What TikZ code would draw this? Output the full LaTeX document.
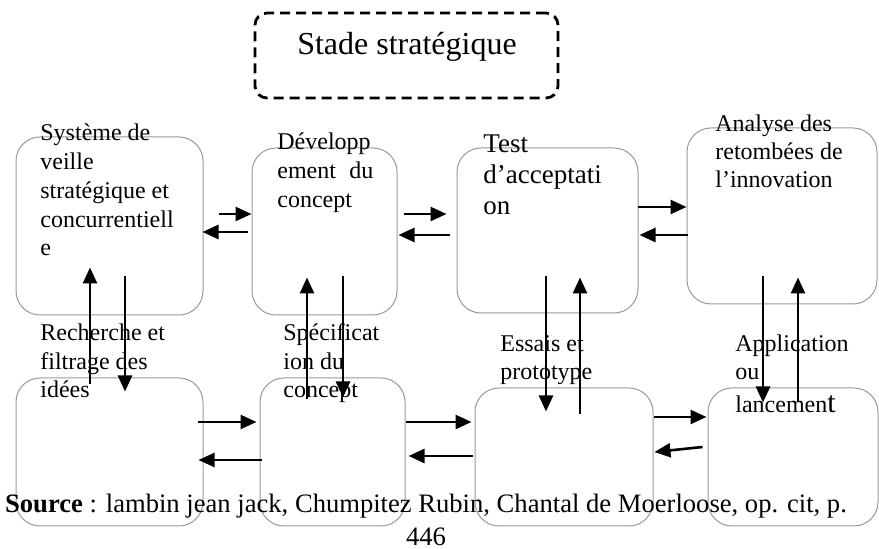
\documentclass[tikz,border=0pt]{standalone}
\usepackage{fontspec}
\setmainfont{Liberation Serif}
\usetikzlibrary{arrows.meta,positioning}

\begin{document}
\begin{tikzpicture}[
    x=0.5pt,y=-0.5pt,
    font=\fontsize{12}{14.4}\selectfont,
    block/.style={draw=black!40,line width=0.5pt,rounded corners=12pt,inner sep=0pt},
    stage/.style={draw,dash pattern=on 5pt off 3pt,line width=1.4pt,rounded corners=6pt,inner sep=0pt},
    lbl/.style={anchor=base west,align=left,inner sep=0pt},
    arrow/.style={-{Triangle[length=8pt,width=7pt]},line width=1.3pt}
]
\useasboundingbox (0,0) rectangle (879,549);
% stage title
\node[stage,minimum width=151.5pt,minimum height=42.5pt] (stade) at (406.5,55.5) {};
\node[anchor=base,inner sep=0pt,font=\fontsize{16}{19}\selectfont] (titre) at (407,55) {Stade stratégique};
% upper row
\node[block,minimum width=93.5pt,minimum height=89pt] (veille) at (109.5,226) {};
\node[block,minimum width=72.5pt,minimum height=83.5pt] (concept) at (324.5,231.5) {};
\node[block,minimum width=90.5pt,minimum height=82.5pt] (acceptation) at (547.5,230.5) {};
\node[block,minimum width=95pt,minimum height=88pt] (retombees) at (782,216) {};
% lower row
\node[block,minimum width=93.5pt,minimum height=74pt] (recherche) at (109.5,452) {};
\node[block,minimum width=72.5pt,minimum height=74pt] (specification) at (332.5,452) {};
\node[block,minimum width=89pt,minimum height=69pt] (essais) at (564,457) {};
\node[block,minimum width=85pt,minimum height=69pt] (lancement) at (793,457) {};
% texts (placed by the baseline of their last line)
\node[lbl] (tveille) at (40,256) {Système de\\veille\\stratégique et\\concurrentiell\\e};
\node[lbl] (tconcept) at (277,207.5) {Développ\\ement\hspace{6.7pt}du\\concept};
\node[lbl,font=\fontsize{13.5}{15.5}\selectfont] (tacceptation) at (483,215) {Test\\d’acceptati\\on};
\node[lbl,font=\fontsize{12}{14}\selectfont] (tretombees) at (715,188) {Analyse des\\retombées de\\l’innovation};
\node[lbl] (trecherche) at (40,398) {Recherche et\\filtrage des\\idées};
\node[lbl] (tspecification) at (283,398) {Spécificat\\ion du\\concept};
\node[lbl] (tessais) at (500,380) {Essais et\\prototype};
\node[lbl,font=\fontsize{12}{14}\selectfont] (tlancement) at (735,413) {Application\\ou\\[2.5pt]lancemen{\fontsize{15}{15}\selectfont t}};
% horizontal arrows, upper row
\draw[arrow] ([shift={(15,-12)}]veille.east) -- ([shift={(0,-17.5)}]concept.west);
\draw[arrow] ([shift={(-4,0.5)}]concept.west) -- ([shift={(-1,6)}]veille.east);
\draw[arrow] ([shift={(6,-17.5)}]concept.east) -- ([shift={(-10,-16.5)}]acceptation.west);
\draw[arrow] ([shift={(-7,4.5)}]acceptation.west) -- ([shift={(1,3.5)}]concept.east);
\draw[arrow] ([shift={(-1,-23.5)}]acceptation.east) -- ([shift={(0,-9)}]retombees.west);
\draw[arrow] ([shift={(1,19)}]retombees.west) -- ([shift={(1,4.5)}]acceptation.east);
% vertical arrows
\draw[arrow] ([shift={(-19.5,7)}]recherche.north) -- ([shift={(-19.5,-48)}]veille.south);
\draw[arrow] ([shift={(15.5,-39)}]veille.south) -- ([shift={(15.5,14)}]recherche.north);
\draw[arrow] ([shift={(-25.5,22)}]specification.north) -- ([shift={(-17.5,-38)}]concept.south);
\draw[arrow] ([shift={(18.5,-39)}]concept.south) -- ([shift={(10.5,20)}]specification.north);
\draw[arrow] ([shift={(-1.5,-37)}]acceptation.south) -- ([shift={(-18,24)}]essais.north);
\draw[arrow] ([shift={(16,27)}]essais.north) -- ([shift={(32.5,-36)}]acceptation.south);
\draw[arrow] ([shift={(-19,-28)}]retombees.south) -- ([shift={(-30,15)}]lancement.north);
\draw[arrow] ([shift={(5,15)}]lancement.north) -- ([shift={(16,-27)}]retombees.south);
% horizontal arrows, lower row
\draw[arrow] ([shift={(-6,-30)}]recherche.east) -- ([shift={(-3,-30)}]specification.west);
\draw[arrow] ([shift={(2,8)}]specification.west) -- ([shift={(-5,8)}]recherche.east);
\draw[arrow] ([shift={(0,-30)}]specification.east) -- ([shift={(-3,-35)}]essais.west);
\draw[arrow] ([shift={(-2,-1)}]essais.west) -- ([shift={(3,4)}]specification.east);
\draw[arrow] ([shift={(0,-40)}]essais.east) -- ([shift={(-1,-40)}]lancement.west);
\draw[arrow] ([shift={(-5,-10)}]lancement.west) -- ([shift={(1,-5)}]essais.east);
% source
\node[anchor=base,align=center,inner sep=0pt,font=\fontsize{13.3}{16.5}\selectfont] (source) at (426,546)
  {\textbf{Source} : lambin jean jack, Chumpitez Rubin, Chantal de Moerloose, op. cit, p.\\446};
\end{tikzpicture}
\end{document}
